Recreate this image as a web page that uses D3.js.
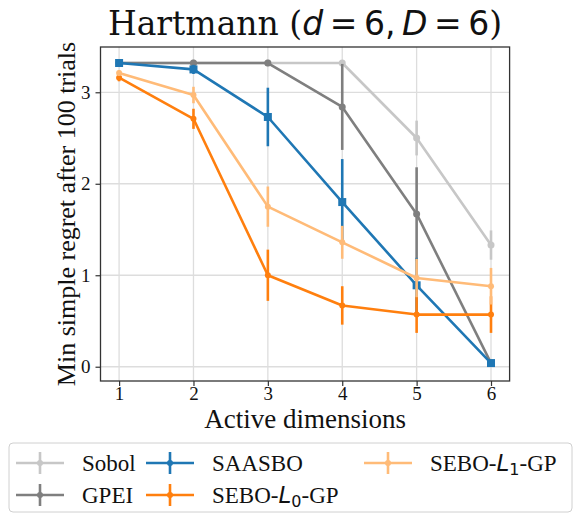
<!DOCTYPE html>
<html>
<head>
<meta charset="utf-8">
<script src="https://cdn.jsdelivr.net/npm/d3@7"></script>
<style>
    body { margin: 0; background: #fff; }
    svg { display: block; }
    .serif { font-family: "Liberation Serif", "Times New Roman", serif; }
</style>
</head>
<body>
<div id="chart"></div>
<script>
// data
var dims = [1, 2, 3, 4, 5, 6];
var yTicks = [0, 1, 2, 3];

var sobolMean = [3.32, 3.32, 3.32, 3.32, 2.50, 1.33];
var sobolErr  = [0, 0, 0, 0, 0.19, 0.16];
var gpeiMean = [3.32, 3.32, 3.32, 2.84, 1.67, 0.04];
var gpeiErr  = [0, 0, 0, 0.47, 0.51, 0];
var saasboMean = [3.32, 3.25, 2.73, 1.80, 0.89, 0.04];
var saasboErr  = [0.02, 0.05, 0.32, 0.47, 0.30, 0];
var l0Mean = [3.16, 2.71, 1.00, 0.67, 0.57, 0.57];
var l0Err  = [0.04, 0.11, 0.28, 0.21, 0.20, 0.20];
var l1Mean = [3.21, 2.97, 1.75, 1.36, 0.97, 0.88];
var l1Err  = [0.03, 0.09, 0.22, 0.18, 0.21, 0.20];

var series = [
    {name: "Sobol", mean: sobolMean, err: sobolErr, color: "#c7c7c7", marker: "circle", r: 3.5},
    {name: "GPEI", mean: gpeiMean, err: gpeiErr, color: "#7f7f7f", marker: "circle", r: 3.5},
    {name: "SAASBO", mean: saasboMean, err: saasboErr, color: "#1f77b4", marker: "square", r: 4},
    {name: "SEBO-L0-GP", mean: l0Mean, err: l0Err, color: "#ff7f0e", marker: "circle", r: 3},
    {name: "SEBO-L1-GP", mean: l1Mean, err: l1Err, color: "#ffbb78", marker: "circle", r: 3}
];

var W = 576, H = 514;
var plot = {left: 100.5, right: 509.6, top: 47, bottom: 381};

var svg = d3.select("#chart")
    .append("svg")
    .attr("width", W)
    .attr("height", H);

var x = d3.scaleLinear()
    .domain([0.75, 6.25])
    .range([plot.left, plot.right]);

var y = d3.scaleLinear()
    .domain([-0.156, 3.495])
    .range([plot.bottom, plot.top]);

// grid
var grid = svg.append("g");
grid.selectAll(".vgrid")
    .data(dims)
    .enter().append("line")
    .attr("x1", d => x(d)).attr("x2", d => x(d))
    .attr("y1", plot.top).attr("y2", plot.bottom)
    .attr("stroke", "#dddddd").attr("stroke-width", 1.3);
grid.selectAll(".hgrid")
    .data(yTicks)
    .enter().append("line")
    .attr("y1", d => y(d)).attr("y2", d => y(d))
    .attr("x1", plot.left).attr("x2", plot.right)
    .attr("stroke", "#dddddd").attr("stroke-width", 1.3);

// axes
var xAxis = svg.append("g")
    .attr("transform", "translate(0," + plot.bottom + ")")
    .call(d3.axisBottom(x).tickValues(dims).tickSize(5).tickPadding(5).tickFormat(d3.format("d")));
var yAxis = svg.append("g")
    .attr("transform", "translate(" + plot.left + ",0)")
    .call(d3.axisLeft(y).tickValues(yTicks).tickSize(5).tickPadding(5).tickFormat(d3.format("d")));

[xAxis, yAxis].forEach(function (a) {
    a.select(".domain").remove();
    a.selectAll(".tick line").attr("stroke", "#333").attr("stroke-width", 1.2);
    a.selectAll(".tick text")
        .attr("class", "serif")
        .style("font-size", "19px")
        .attr("fill", "#111");
});
xAxis.selectAll(".tick text").attr("y", 19).attr("dy", 0);

// series
var line = d3.line()
    .x((d, i) => x(dims[i]))
    .y(d => y(d));

series.forEach(function (s) {
    var g = svg.append("g");
    var pts = s.mean.map((m, i) => ({x: dims[i], m: m, e: s.err[i]}));

    // error bars (no caps)
    g.selectAll(".err")
        .data(pts.filter(p => p.e > 0))
        .enter().append("line")
        .attr("x1", p => x(p.x)).attr("x2", p => x(p.x))
        .attr("y1", p => y(p.m + p.e))
        .attr("y2", p => y(p.m - p.e))
        .attr("stroke", s.color).attr("stroke-width", 2.6);

    g.append("path")
        .datum(s.mean)
        .attr("d", line)
        .attr("fill", "none")
        .attr("stroke", s.color)
        .attr("stroke-width", 2.6)
        .attr("stroke-linejoin", "round");

    if (s.marker === "square") {
        g.selectAll(".pt")
            .data(pts)
            .enter().append("rect")
            .attr("x", p => x(p.x) - s.r)
            .attr("y", p => y(p.m) - s.r)
            .attr("width", s.r * 2).attr("height", s.r * 2)
            .attr("fill", s.color);
    } else {
        g.selectAll(".pt")
            .data(pts)
            .enter().append("circle")
            .attr("cx", p => x(p.x))
            .attr("cy", p => y(p.m))
            .attr("r", s.r)
            .attr("fill", s.color);
    }
});

// frame
svg.append("rect")
    .attr("x", plot.left).attr("y", plot.top)
    .attr("width", plot.right - plot.left)
    .attr("height", plot.bottom - plot.top)
    .attr("fill", "none")
    .attr("stroke", "#333")
    .attr("stroke-width", 1.3);

// axis labels
svg.append("text")
    .attr("class", "serif")
    .attr("x", (plot.left + plot.right) / 2)
    .attr("y", 428)
    .attr("text-anchor", "middle")
    .style("font-size", "27px")
    .attr("fill", "#111")
    .text("Active dimensions");

svg.append("text")
    .attr("class", "serif")
    .attr("transform", "translate(75," + (plot.top + plot.bottom) / 2 + ") rotate(-90)")
    .attr("text-anchor", "middle")
    .style("font-size", "26px")
    .attr("fill", "#111")
    .text("Min simple regret after 100 trials");

// title with math parts
var title = svg.append("text")
    .attr("x", (plot.left + plot.right) / 2)
    .attr("y", 35)
    .attr("text-anchor", "middle")
    .style("font-size", "33px")
    .attr("fill", "#111");
title.append("tspan").style("font-family", "DejaVu Serif").text("Hartmann (");
title.append("tspan").style("font-family", "DejaVu Sans").style("font-style", "italic").text("d");
title.append("tspan").style("font-family", "DejaVu Sans").text("\u2009=\u20096,\u2009");
title.append("tspan").style("font-family", "DejaVu Sans").style("font-style", "italic").text("D");
title.append("tspan").style("font-family", "DejaVu Sans").text("\u2009=\u20096");
title.append("tspan").style("font-family", "DejaVu Serif").text(")");

// legend
var legend = svg.append("g");
legend.append("rect")
    .attr("x", 9).attr("y", 443)
    .attr("width", 563).attr("height", 69)
    .attr("rx", 4)
    .attr("fill", "#fff")
    .attr("stroke", "#d0d0d0")
    .attr("stroke-width", 1);

var legendPos = [
    {col: 0, row: 0}, {col: 0, row: 1},
    {col: 1, row: 0}, {col: 1, row: 1},
    {col: 2, row: 0}
];
var colX = [16, 146, 364];
var rowY = [463, 495];

series.forEach(function (s, k) {
    var p = legendPos[k];
    var lx = colX[p.col], ly = rowY[p.row];
    var item = legend.append("g").attr("transform", "translate(" + lx + "," + ly + ")");
    item.append("line")
        .attr("x1", 0).attr("x2", 48).attr("y1", 0).attr("y2", 0)
        .attr("stroke", s.color).attr("stroke-width", 2.6);
    item.append("line")
        .attr("x1", 24).attr("x2", 24).attr("y1", -11).attr("y2", 11)
        .attr("stroke", s.color).attr("stroke-width", 2.6);
    item.append("circle")
        .attr("cx", 24).attr("cy", 0).attr("r", 3)
        .attr("fill", s.color);
    var t = item.append("text")
        .attr("class", "serif")
        .attr("x", 66).attr("y", 8)
        .style("font-size", "23px")
        .attr("fill", "#111");
    if (s.name.indexOf("SEBO") === 0) {
        var sub = s.name.charAt(6);
        t.append("tspan").text("SEBO-");
        t.append("tspan").style("font-family", "DejaVu Sans").style("font-style", "italic").text("L");
        t.append("tspan").style("font-family", "DejaVu Sans").style("font-size", "16px").attr("dy", 4).text(sub);
        t.append("tspan").attr("dy", -4).text("-GP");
    } else {
        t.text(s.name);
    }
});
</script>
</body>
</html>
